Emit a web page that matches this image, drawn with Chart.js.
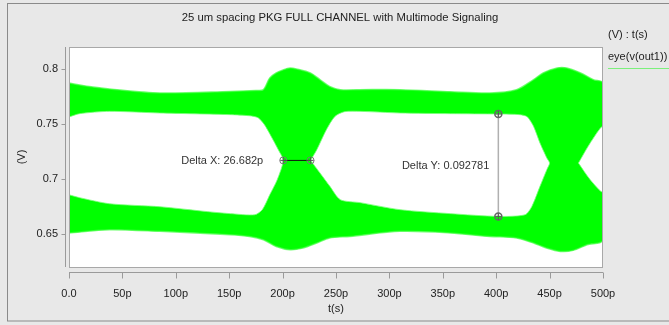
<!DOCTYPE html>
<html>
<head>
<meta charset="utf-8">
<script src="https://cdn.jsdelivr.net/npm/chart.js@4.4.0/dist/chart.umd.min.js"></script>
<style>
  html, body { margin: 0; padding: 0; background: #e8e8e8; }
</style>
</head>
<body>
<canvas id="eye" width="669" height="325"></canvas>
<script>
// -----------------------------
// Data (t in ps, v in V)
// -----------------------------
const xTicks = [0, 50, 100, 150, 200, 250, 300, 350, 400, 450, 500];
const yTicks = [0.65, 0.7, 0.75, 0.8];

// outer edge of the traces (top and bottom)
const outerTopT = [0, 19, 38, 85, 151, 175, 182, 188, 194, 201, 207, 213, 226, 235, 244, 254, 272, 310, 357, 394, 419, 435, 444, 457, 466, 479, 491, 500];
const outerTopV = [0.7873, 0.784, 0.7818, 0.7782, 0.7796, 0.7805, 0.7812, 0.7918, 0.7964, 0.7994, 0.8009, 0.8, 0.7964, 0.7903, 0.7842, 0.7812, 0.7812, 0.7812, 0.7794, 0.7782, 0.7812, 0.7903, 0.7964, 0.8009, 0.8009, 0.7964, 0.7903, 0.7873];
const outerBotT = [0, 38, 85, 151, 169, 182, 194, 207, 219, 232, 244, 263, 310, 357, 394, 419, 435, 447, 460, 472, 485, 500];
const outerBotV = [0.6509, 0.6539, 0.6524, 0.6494, 0.6478, 0.6448, 0.6387, 0.6357, 0.6373, 0.6418, 0.6464, 0.6478, 0.6524, 0.651, 0.6478, 0.6464, 0.6418, 0.6373, 0.6342, 0.6351, 0.6403, 0.6448];

// eye openings (closed outlines)
const eye1T = [0, 10, 38, 85, 151, 169, 177, 183, 190, 196, 200.6, 195, 188, 181, 174, 151, 130, 85, 38, 10, 0];
const eye1V = [0.7564, 0.7594, 0.7615, 0.76, 0.7585, 0.7575, 0.7557, 0.7494, 0.7375, 0.7266, 0.7169, 0.6994, 0.6857, 0.6721, 0.6675, 0.6685, 0.6703, 0.6748, 0.6775, 0.683, 0.6857];
const eye2T = [226.2, 232, 241, 249, 258, 272.5, 310, 357, 402, 422, 429, 435, 441, 447.4, 450, 447.4, 441, 433.4, 427, 402, 357, 310, 272.5, 254, 244.3, 235, 226.2];
const eye2V = [0.7169, 0.7266, 0.7448, 0.7569, 0.7612, 0.7615, 0.76, 0.7594, 0.7591, 0.7585, 0.7566, 0.7478, 0.7327, 0.7191, 0.7145, 0.7085, 0.6933, 0.6751, 0.6675, 0.666, 0.6685, 0.6721, 0.6785, 0.6812, 0.6933, 0.7055, 0.7169];
const eye3T = [477, 488, 500, 500, 488, 477];
const eye3V = [0.7145, 0.7327, 0.7475, 0.6885, 0.6994, 0.7145];

// measurement cursors
const deltaXT = [200.6, 226.2];
const deltaXV = [0.7169, 0.7169];
const deltaYT = [402, 402];
const deltaYV = [0.7591, 0.666];
const deltaXLabel = "Delta X: 26.682p";
const deltaYLabel = "Delta Y: 0.092781";

const chartTitle = "25 um spacing PKG FULL CHANNEL with Multimode Signaling";
const legendHeader = "(V) : t(s)";
const legendName = "eye(v(out1))";

const FONT = "'Liberation Sans', Arial, sans-serif";
const GREEN = "#00ff00";

const pts = (ts, vs) => ts.map((t, i) => ({ x: t, y: vs[i] }));

// envelope = top edge left->right, then bottom edge right->left
const envelope = [...pts(outerTopT, outerTopV), ...pts(outerBotT, outerBotV).reverse()];

// -----------------------------
// Frame, axes and text (Cadence-like look)
// -----------------------------
const framePlugin = {
  id: "frame",
  beforeDraw(chart) {
    const { ctx, chartArea: a } = chart;
    ctx.save();
    ctx.fillStyle = "#e8e8e8";
    ctx.fillRect(0, 0, chart.width, chart.height);
    ctx.strokeStyle = "#8a8a8a";
    ctx.lineWidth = 1;
    ctx.strokeRect(7.5, 3.5, 700, 317.5);
    ctx.fillStyle = "#ffffff";
    ctx.fillRect(a.left, a.top, a.right - a.left, a.bottom - a.top);
    ctx.restore();
  },
  afterDraw(chart) {
    const { ctx, chartArea: a, scales } = chart;
    const xs = scales.x, ys = scales.y;
    ctx.save();
    // plot border
    ctx.strokeStyle = "#a8a8a8";
    ctx.lineWidth = 1;
    ctx.strokeRect(a.left + 0.5, a.top + 0.5, a.right - a.left - 1, a.bottom - a.top);

    // detached x axis
    const axY = a.bottom + 5.5;
    ctx.strokeStyle = "#9a9a9a";
    ctx.beginPath();
    ctx.moveTo(a.left, axY);
    ctx.lineTo(a.right, axY);
    xTicks.forEach((t) => {
      const px = Math.round(xs.getPixelForValue(t)) + 0.5;
      ctx.moveTo(px, axY);
      ctx.lineTo(px, axY + 6);
    });
    // y axis line + ticks
    const axX = a.left - 3.5;
    ctx.moveTo(axX, a.top);
    ctx.lineTo(axX, a.bottom);
    yTicks.forEach((v) => {
      const py = Math.round(ys.getPixelForValue(v)) + 0.5;
      ctx.moveTo(axX - 4, py);
      ctx.lineTo(axX, py);
    });
    ctx.stroke();

    // title
    ctx.fillStyle = "#222";
    ctx.font = "11.3px " + FONT;
    ctx.textAlign = "center";
    ctx.textBaseline = "middle";
    ctx.fillText(chartTitle, 340, 18);

    // legend
    ctx.font = "11px " + FONT;
    ctx.textAlign = "left";
    ctx.fillText(legendHeader, 608, 35);
    ctx.fillText(legendName, 608, 57);
    ctx.strokeStyle = "#7cf07c";
    ctx.beginPath();
    ctx.moveTo(608, 68.5);
    ctx.lineTo(669, 68.5);
    ctx.stroke();

    // cursor labels
    ctx.textAlign = "right";
    ctx.fillStyle = "#333";
    const dxX = xs.getPixelForValue(deltaXT[0]);
    const dxY = ys.getPixelForValue(deltaXV[0]);
    ctx.fillText(deltaXLabel, dxX - 20, dxY + 1);
    const dyX = xs.getPixelForValue(deltaYT[0]);
    const dyY = (ys.getPixelForValue(deltaYV[0]) + ys.getPixelForValue(deltaYV[1])) / 2;
    ctx.fillText(deltaYLabel, dyX - 9, dyY + 1);
    ctx.restore();
  }
};

new Chart(document.getElementById("eye"), {
  type: "scatter",
  data: {
    datasets: [
      {
        label: "env",
        data: envelope,
        showLine: true,
        fill: "shape",
        backgroundColor: GREEN,
        borderColor: "rgba(60,255,60,0.7)",
        borderWidth: 1.5,
        tension: 0.3,
        pointRadius: 0,
        order: 4
      },
      ...[[eye1T, eye1V], [eye2T, eye2V], [eye3T, eye3V]].map(([t, v]) => ({
        label: "eye",
        data: pts(t, v),
        showLine: true,
        fill: "shape",
        backgroundColor: "#ffffff",
        borderColor: "rgba(120,255,120,0.8)",
        borderWidth: 1,
        tension: 0.25,
        pointRadius: 0,
        order: 3
      })),
      {
        label: "dx",
        data: pts(deltaXT, deltaXV),
        showLine: true,
        borderColor: "#111",
        borderWidth: 1,
        pointRadius: 3.5,
        pointStyle: "circle",
        pointBorderColor: "#777",
        pointBackgroundColor: "rgba(255,255,255,0)",
        order: 1
      },
      {
        label: "dy",
        data: pts(deltaYT, deltaYV),
        showLine: true,
        borderColor: "#b0b0b0",
        borderWidth: 1.5,
        pointRadius: 3.5,
        pointStyle: "circle",
        pointBorderColor: "#666",
        pointBackgroundColor: "rgba(255,255,255,0)",
        order: 1
      },
      {
        label: "cross",
        data: [...pts(deltaXT, deltaXV), ...pts(deltaYT, deltaYV)],
        showLine: false,
        pointRadius: 3,
        pointStyle: "cross",
        pointBorderColor: "#555",
        pointBorderWidth: 1,
        order: 0
      }
    ]
  },
  options: {
    responsive: false,
    devicePixelRatio: 1,
    animation: false,
    layout: { padding: { top: 47, right: 66, left: 0, bottom: 0 } },
    plugins: { legend: { display: false }, tooltip: { enabled: false } },
    scales: {
      x: {
        type: "linear",
        min: 0,
        max: 500,
        afterFit: (s) => { s.height = 58; },
        afterBuildTicks: (s) => { s.ticks = xTicks.map((v) => ({ value: v })); },
        grid: { display: false, drawTicks: false },
        border: { display: false },
        ticks: {
          autoSkip: false,
          maxRotation: 0,
          padding: 20,
          color: "#222",
          font: { family: FONT, size: 11 },
          callback: (v) => (v === 0 ? "0.0" : v + "p")
        },
        title: {
          display: true,
          text: "t(s)",
          color: "#222",
          font: { family: FONT, size: 11 },
          padding: { top: 0, bottom: 9 }
        }
      },
      y: {
        type: "linear",
        min: 0.62,
        max: 0.82,
        afterFit: (s) => { s.width = 69; },
        afterBuildTicks: (s) => { s.ticks = yTicks.map((v) => ({ value: v })); },
        grid: { display: false, drawTicks: false },
        border: { display: false },
        ticks: {
          padding: 11,
          color: "#222",
          font: { family: FONT, size: 11 },
          callback: (v) => String(+v.toFixed(2))
        },
        title: {
          display: true,
          text: "(V)",
          color: "#222",
          font: { family: FONT, size: 11 },
          padding: { top: 15, bottom: 0 }
        }
      }
    }
  },
  plugins: [framePlugin]
});
</script>
</body>
</html>
